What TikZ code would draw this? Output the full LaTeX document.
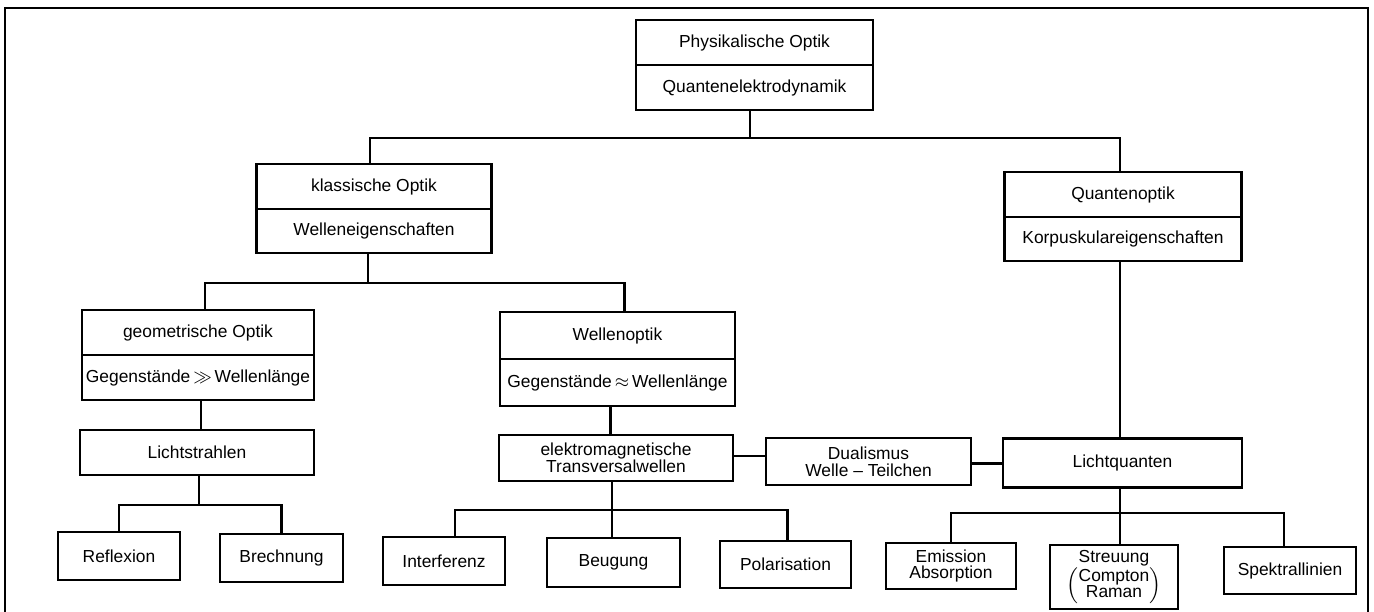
\documentclass[tikz,border=0pt]{standalone}
\usepackage{fontspec}
\setmainfont{Liberation Sans}
\begin{document}
\begin{tikzpicture}[x=0.5pt,y=-0.5pt,
  box/.style={draw, line width=1.1pt, inner sep=0pt, align=center,
    font=\fontsize{8.7}{8.4}\selectfont},
  conn/.style={line width=1.1pt},
  frame/.style={line width=1.4pt}]
\useasboundingbox (0,0) rectangle (1374,611);
\draw[frame] (5,640) -- (5,8) -- (1368,8) -- (1368,640);

% two-part boxes
\node[box, minimum width=118.5pt, minimum height=22.5pt] (phys1) at (754.5,42.5) {Physikalische Optik};
\node[box, minimum width=118.5pt, minimum height=22.5pt] (phys2) at (754.5,87.5) {Quantenelektrodynamik};
\node[box, minimum width=117.5pt, minimum height=22.5pt] (klass1) at (374,186.5) {klassische Optik};
\node[box, minimum width=117.5pt, minimum height=22pt] (klass2) at (374,231) {Welleneigenschaften};
\node[box, minimum width=118.5pt, minimum height=22.5pt] (quant1) at (1123,194.5) {Quantenoptik};
\node[box, minimum width=118.5pt, minimum height=22pt] (quant2) at (1123,239) {Korpuskulareigenschaften};
\node[box, minimum width=116pt, minimum height=22.5pt] (geom1) at (198,332.5) {geometrische Optik};
\node[box, minimum width=116pt, minimum height=22.5pt] (geom2) at (198,377.5) {Gegenstände\,$\gg$\,Wellenlänge};
\node[box, minimum width=117.5pt, minimum height=23.5pt] (welle1) at (617.5,335.5) {Wellenoptik};
\node[box, minimum width=117.5pt, minimum height=23.5pt] (welle2) at (617.5,382.5) {Gegenstände\,$\approx$\,Wellenlänge};

% single boxes
\node[box, minimum width=117pt, minimum height=22.5pt] (licht) at (197,452.5) {Lichtstrahlen};
\node[box, minimum width=117pt, minimum height=23pt] (elektro) at (616,458) {elektromagnetische\\Transversalwellen};
\node[box, minimum width=102.5pt, minimum height=23.5pt] (dual) at (868.5,461.5) {Dualismus\\Welle -- Teilchen};
\node[box, minimum width=119.5pt, minimum height=24.5pt] (lq) at (1122.5,463) {Lichtquanten};
\node[box, minimum width=61pt, minimum height=24pt] (refl) at (119,556) {Reflexion};
\node[box, minimum width=61.5pt, minimum height=24pt] (brech) at (281.5,558) {Brechnung};
\node[box, minimum width=61pt, minimum height=24pt] (interf) at (444,561) {Interferenz};
\node[box, minimum width=66.5pt, minimum height=24.5pt] (beug) at (613.5,562.5) {Beugung};
\node[box, minimum width=65.5pt, minimum height=23.5pt] (polar) at (785.5,564.5) {Polarisation};
\node[box, minimum width=65pt, minimum height=23pt] (emis) at (951,566) {Emission\\Absorption};
\node[box, minimum width=64pt, minimum height=32pt] (streu) at (1114,577)
  {Streuung\\[0pt]$\left(\vcenter{\hbox{\def\arraystretch{0.95}\begin{tabular}{@{}c@{}}Compton\\Raman\end{tabular}}}\right)$};
\node[box, minimum width=66pt, minimum height=23.5pt] (spek) at (1290,570.5) {Spektrallinien};

% junctions
\coordinate (j1) at (750,138);
\coordinate (j2) at (368,283);
\coordinate (j3) at (199,505);
\coordinate (j4) at (612,510);
\coordinate (j5) at (1120,513);

% connectors
\draw[conn] (phys2.south -| j1) -- (j1);
\draw[conn] ([xshift=-2pt]klass1.north) |- (j1) -| ([xshift=-1.5pt]quant1.north);
\draw[conn] (klass2.south -| j2) -- (j2);
\draw[conn] ([xshift=3.5pt]geom1.north) |- (j2) -| ([xshift=3.5pt]welle1.north);
\draw[conn] ([xshift=1.5pt]geom2.south) -- ([xshift=1.5pt]geom2.south |- licht.north);
\draw[conn] (licht.south -| j3) -- (j3);
\draw[conn] (refl.north) |- (j3) -| (brech.north);
\draw[conn] ([xshift=-3.5pt]welle2.south) -- ([xshift=-3.5pt]welle2.south |- elektro.north);
\draw[conn] ([yshift=1pt]elektro.east) -- ([yshift=1pt]elektro.east -| dual.west);
\draw[conn] ([yshift=-1pt]dual.east) -- ([yshift=-1pt]dual.east -| lq.west);
\draw[conn] ([xshift=-1.5pt]quant2.south) -- ([xshift=-1.5pt]quant2.south |- lq.north);
\draw[conn] (elektro.south -| j4) -- (j4);
\draw[conn] ([xshift=5.5pt]interf.north) |- (j4) -| ([xshift=1pt]polar.north);
\draw[conn] (beug.north -| j4) -- (j4);
\draw[conn] (lq.south -| j5) -- (j5);
\draw[conn] (emis.north) |- (j5) -| ([xshift=-3pt]spek.north);
\draw[conn] (streu.north -| j5) -- (j5);
\end{tikzpicture}
\end{document}
